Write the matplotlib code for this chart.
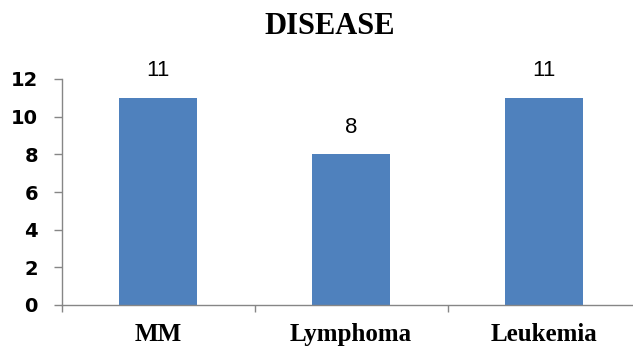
import numpy as np
import matplotlib.pyplot as plt

categories = ['MM', 'Lymphoma', 'Leukemia']
counts = [11, 8, 11]

fig = plt.figure(figsize=(6.33, 3.49), dpi=100)
# plot area runs a little past the right edge of the picture
ax = fig.add_axes([61.5 / 633, 1 - 305 / 349, 579 / 633, 226 / 349])

x = np.arange(len(categories)) + 0.5
bars = ax.bar(x, counts, width=0.4, color='#4F81BD', zorder=2)

for b, v in zip(bars, counts):
    ax.annotate(str(v), (b.get_x() + b.get_width() / 2, v),
                xytext=(0, 12), textcoords='offset points',
                ha='center', va='bottom', fontsize=16,
                family='Liberation Sans')

ax.set_xlim(0, 3)
ax.set_ylim(0, 12)
ax.set_yticks(range(0, 13, 2))

# tick marks at category boundaries, labels at category centres
ax.set_xticks([0, 1, 2])
ax.set_xticklabels([])
ax.set_xticks(x, minor=True)
ax.set_xticklabels(categories, minor=True, fontsize=18,
                   family='Liberation Serif', fontweight='bold')
ax.tick_params(axis='x', which='minor', length=0, pad=13)
ax.tick_params(axis='x', which='major', length=5, color='#868686', width=1)
ax.tick_params(axis='y', length=6, color='#868686', width=1, pad=11)
for lab in ax.get_yticklabels():
    lab.set_fontsize(14)
    lab.set_fontweight('bold')
    lab.set_family('DejaVu Sans')

for s in ['top', 'right']:
    ax.spines[s].set_visible(False)
for s in ['left', 'bottom']:
    ax.spines[s].set_color('#868686')
    ax.spines[s].set_linewidth(1)

fig.text(330 / 633, 1 - 27 / 349, 'DISEASE', ha='center', va='center',
         fontsize=22, family='Liberation Serif', fontweight='bold')

fig.savefig('out.png', dpi=100)
